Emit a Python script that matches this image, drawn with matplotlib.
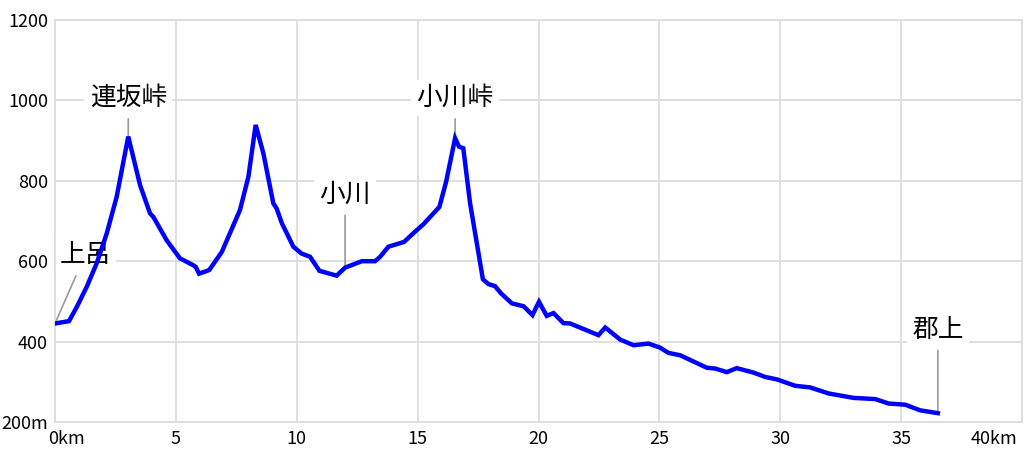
import matplotlib
matplotlib.use('Agg')
import matplotlib.pyplot as plt

plt.rcParams['font.family'] = ['Noto Sans CJK JP', 'DejaVu Sans']

# elevation profile, distance km / elevation m
dist = [0, 0.58, 0.9, 1.31, 1.72, 2.14, 2.55, 3.03, 3.52, 3.93, 4.07, 4.62,
        5.17, 5.72, 5.82, 5.96, 6.38, 6.9, 7.65, 8.0, 8.3, 8.62, 9.03, 9.17,
        9.38, 9.86, 10.2, 10.55, 10.94, 11.65, 12.0, 12.69, 13.24, 13.45,
        13.79, 14.44, 14.83, 15.24, 15.9, 16.18, 16.55, 16.71, 16.89, 17.17,
        17.7, 17.93, 18.2, 18.45, 18.9, 19.38, 19.75, 20.02, 20.34, 20.62,
        21.03, 21.31, 22.48, 22.76, 23.38, 23.93, 24.55, 25.03, 25.37, 25.86,
        26.96, 27.31, 27.79, 28.2, 28.89, 29.38, 29.86, 30.62, 31.24, 32.0,
        33.03, 33.93, 34.48, 35.17, 35.79, 36.52]
elev = [445, 451, 486, 536, 594, 669, 760, 910, 789, 719, 710, 652,
        607, 590, 586, 569, 578, 623, 727, 810, 939, 868, 744, 731,
        695, 636, 619, 611, 576, 564, 584, 600, 600, 611,
        636, 648, 670, 692, 735, 798, 906, 885, 881, 744,
        555, 543, 538, 520, 495, 488, 466, 499, 464, 471,
        446, 445, 416, 435, 405, 391, 395, 385, 372, 366,
        335, 333, 324, 334, 323, 312, 306, 290, 286, 271,
        260, 257, 246, 243, 229, 222]

# place names: name, point on profile, label position
places = ['上呂', '連坂峠', '小川', '小川峠', '郡上']
place_xy = [(0, 445), (3.03, 910), (12.0, 584), (16.55, 906), (36.52, 222)]
label_xy = [(1.24, 615), (3.03, 1006), (12.0, 766), (16.55, 1006), (36.52, 430)]

xticks = [0, 5, 10, 15, 20, 25, 30, 35, 40]
yticks = [200, 400, 600, 800, 1000, 1200]
ylabels = ['200m', '400', '600', '800', '1000', '1200']

fig = plt.figure(figsize=(10.24, 4.55), dpi=100)
ax = fig.add_axes([55 / 1024, 33 / 455, 967 / 1024, 402 / 455])

ax.plot(dist, elev, color='#0000ff', lw=3.2, solid_joinstyle='miter', zorder=3)

ax.set_xlim(0, 40)
ax.set_ylim(200, 1200)
ax.set_xticks(xticks)
ax.set_xticklabels([''] + [str(t) for t in xticks[1:-1]] + [''])
ax.set_yticks(yticks)
ax.set_yticklabels(ylabels)
ax.tick_params(length=0, labelsize=13, pad=6)
ax.tick_params(axis='y', pad=5)
ax.grid(color='#dddddd', lw=1.3, zorder=0)
for s in ax.spines.values():
    s.set_color('#dddddd')
    s.set_linewidth(1.3)

# end labels of the x axis
ax.annotate('0km', xy=(0, 0), xycoords=('data', 'axes fraction'),
            xytext=(-5, -6), textcoords='offset points', ha='left', va='top', fontsize=13)
ax.annotate('40km', xy=(40, 0), xycoords=('data', 'axes fraction'),
            xytext=(-3, -6), textcoords='offset points', ha='right', va='top', fontsize=13)

# labels sit over the grid but under the profile line
for name, p, t in zip(places, place_xy, label_xy):
    ax.annotate(name, xy=p, xytext=t, ha='center', va='center', fontsize=18.5,
                bbox=dict(boxstyle='square,pad=0.2', fc='white', ec='none'),
                arrowprops=dict(arrowstyle='-', color='#999999', lw=1.2,
                                shrinkA=2, shrinkB=0),
                zorder=2)

fig.savefig('out.png', dpi=100)
